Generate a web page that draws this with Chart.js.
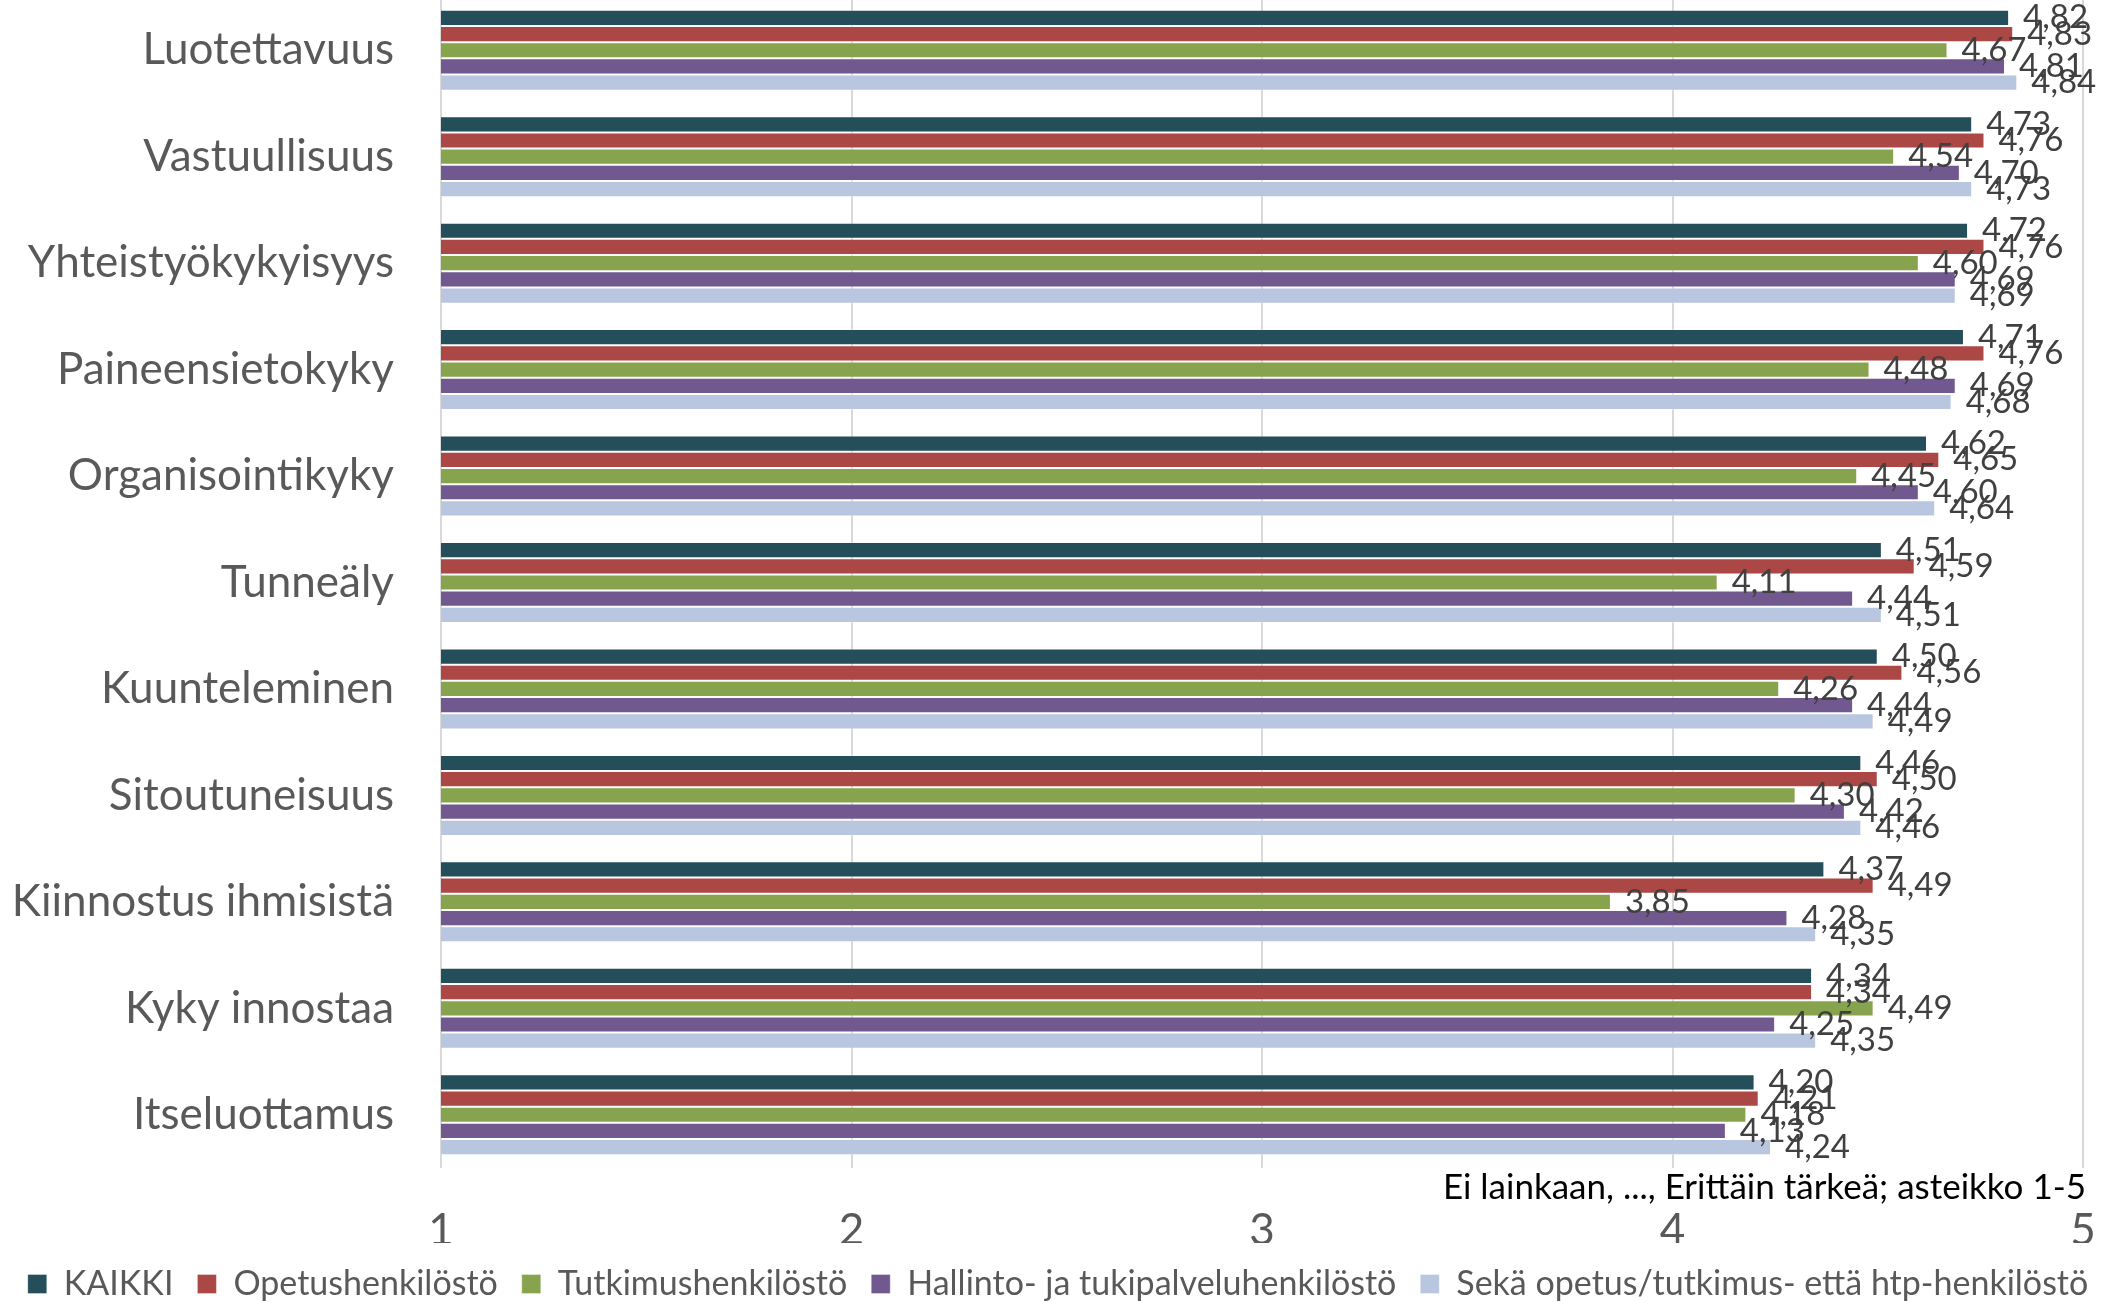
<!DOCTYPE html>
<html>
<head>
<meta charset="utf-8">
<script src="https://cdn.jsdelivr.net/npm/chart.js@4"></script>
<style>
  html, body { margin: 0; padding: 0; background: #fff; overflow: hidden; }
  #chart { position: absolute; left: 0; top: -3px; }
</style>
</head>
<body>
<canvas id="chart" width="2116" height="1314"></canvas>
<script>
// Data
const categories = ['Luotettavuus', 'Vastuullisuus', 'Yhteistyökykyisyys', 'Paineensietokyky',
  'Organisointikyky', 'Tunneäly', 'Kuunteleminen', 'Sitoutuneisuus',
  'Kiinnostus ihmisistä', 'Kyky innostaa', 'Itseluottamus'];
const seriesNames = ['KAIKKI', 'Opetushenkilöstö', 'Tutkimushenkilöstö',
  'Hallinto- ja tukipalveluhenkilöstö', 'Sekä opetus/tutkimus- että htp-henkilöstö'];
const kaikki    = [4.82, 4.73, 4.72, 4.71, 4.62, 4.51, 4.50, 4.46, 4.37, 4.34, 4.20];
const opetus    = [4.83, 4.76, 4.76, 4.76, 4.65, 4.59, 4.56, 4.50, 4.49, 4.34, 4.21];
const tutkimus  = [4.67, 4.54, 4.60, 4.48, 4.45, 4.11, 4.26, 4.30, 3.85, 4.49, 4.18];
const hallinto  = [4.81, 4.70, 4.69, 4.69, 4.60, 4.44, 4.44, 4.42, 4.28, 4.25, 4.13];
const molemmat  = [4.84, 4.73, 4.69, 4.68, 4.64, 4.51, 4.49, 4.46, 4.35, 4.35, 4.24];
const xTicks = [1, 2, 3, 4, 5];
const axisNote = 'Ei lainkaan, ..., Erittäin tärkeä; asteikko 1-5';

const colors = ['#234E5A', '#AB4745', '#88A34E', '#71588F', '#B9C6DF'];
const FONT = "Lato, 'Open Sans', sans-serif";

const allValues = [kaikki, opetus, tutkimus, hallinto, molemmat];

// value labels at the end of each bar, Finnish decimal comma
const valueLabels = {
  id: 'valueLabels',
  afterDatasetsDraw(chart) {
    const ctx = chart.ctx;
    ctx.save();
    ctx.font = '33px ' + FONT;
    ctx.fillStyle = '#404040';
    ctx.textAlign = 'left';
    ctx.textBaseline = 'middle';
    chart.data.datasets.forEach((ds, i) => {
      chart.getDatasetMeta(i).data.forEach((bar, j) => {
        ctx.fillText(ds.data[j].toFixed(2).replace('.', ','), bar.x + 14, bar.y);
      });
    });
    ctx.restore();
  }
};

// scale note that sits between the plot and the tick numbers
const scaleNote = {
  id: 'scaleNote',
  afterDraw(chart) {
    const ctx = chart.ctx;
    const area = chart.chartArea;
    ctx.save();
    ctx.font = '35px ' + FONT;
    ctx.fillStyle = '#000000';
    ctx.textAlign = 'right';
    ctx.textBaseline = 'middle';
    ctx.fillText(axisNote, area.right + 3, area.bottom + 20);
    ctx.restore();
  }
};

new Chart(document.getElementById('chart'), {
  type: 'bar',
  data: {
    labels: categories,
    datasets: seriesNames.map((name, i) => ({
      label: name,
      data: allValues[i],
      backgroundColor: colors[i],
      borderColor: 'rgba(255,255,255,0.35)',
      borderWidth: 1,
      barPercentage: 1,
      categoryPercentage: 0.761
    }))
  },
  options: {
    indexAxis: 'y',
    responsive: false,
    animation: false,
    devicePixelRatio: 1,
    layout: { padding: 0 },
    scales: {
      x: {
        min: 1,
        max: 5,
        afterBuildTicks: (scale) => { scale.ticks = xTicks.map(v => ({ value: v })); },
        afterFit: (scale) => { scale.height = 75; scale.paddingLeft = 0; scale.paddingRight = 33; },
        grid: { color: '#D9D9D9', lineWidth: 2, drawTicks: false },
        border: { display: false },
        ticks: { font: { family: FONT, size: 44 }, color: '#595959', padding: 36 }
      },
      y: {
        afterFit: (scale) => { scale.width = 441; scale.paddingTop = 0; scale.paddingBottom = 0; },
        grid: { display: false },
        border: { display: false },
        ticks: { font: { family: FONT, size: 44 }, color: '#595959', padding: 39 }
      }
    },
    plugins: {
      legend: {
        position: 'bottom',
        labels: {
          font: { family: FONT, size: 34 },
          color: '#595959',
          boxWidth: 19,
          boxHeight: 19,
          padding: 24
        }
      },
      tooltip: { enabled: false }
    }
  },
  plugins: [valueLabels, scaleNote]
});
</script>
</body>
</html>
